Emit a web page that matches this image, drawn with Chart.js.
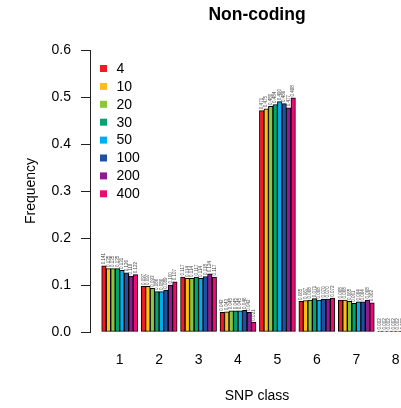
<!DOCTYPE html>
<html>
<head>
<meta charset="utf-8">
<script src="https://cdn.jsdelivr.net/npm/chart.js@4.4.1/dist/chart.umd.min.js"></script>
<style>
  html, body { margin: 0; padding: 0; background: #fff; overflow: hidden; }
  #wrap { width: 401px; height: 408px; }
</style>
</head>
<body>
<div id="wrap"><canvas id="chart" width="401" height="408"></canvas></div>
<script>
// SNP classes on the x axis
const snpClasses = ['1', '2', '3', '4', '5', '6', '7', '8'];
// legend entries (one series each)
const seriesNames = ['4', '10', '20', '30', '50', '100', '200', '400'];
const yTicks = [0, 0.1, 0.2, 0.3, 0.4, 0.5, 0.6];

// frequency per SNP class, one array per series
const freq4   = [0.141, 0.097, 0.117, 0.042, 0.471, 0.065, 0.068, 0.002];
const freq10  = [0.135, 0.097, 0.114, 0.043, 0.475, 0.067, 0.068, 0.002];
const freq20  = [0.135, 0.093, 0.114, 0.045, 0.480, 0.068, 0.065, 0.002];
const freq30  = [0.135, 0.086, 0.117, 0.045, 0.484, 0.071, 0.061, 0.002];
const freq50  = [0.131, 0.086, 0.114, 0.045, 0.490, 0.068, 0.064, 0.002];
const freq100 = [0.126, 0.089, 0.118, 0.046, 0.486, 0.070, 0.064, 0.002];
const freq200 = [0.119, 0.100, 0.124, 0.042, 0.477, 0.070, 0.068, 0.002];
const freq400 = [0.122, 0.107, 0.117, 0.021, 0.498, 0.072, 0.062, 0.002];

const allSeries = [freq4, freq10, freq20, freq30, freq50, freq100, freq200, freq400];
const colors = ['#ED1C24', '#FDC010', '#8CC63F', '#00A46F', '#00AEEF', '#2050A6', '#8E1C8E', '#EC0B73'];

Chart.defaults.font.family = '"Liberation Sans", Arial, Helvetica, sans-serif';
Chart.defaults.color = '#000';

// titles, legend and value labels in R style
const decorations = {
    id: 'decorations',
    afterDatasetsDraw(chart) {
        const ctx = chart.ctx;
        ctx.save();
        // tiny rotated labels over bars
        ctx.fillStyle = '#444';
        ctx.font = '4.5px "Liberation Sans", Arial, sans-serif';
        ctx.textAlign = 'left';
        ctx.textBaseline = 'middle';
        chart.data.datasets.forEach((ds, di) => {
            chart.getDatasetMeta(di).data.forEach((bar, i) => {
                ctx.save();
                ctx.translate(bar.x, bar.y - 1.5);
                ctx.rotate(-Math.PI / 2);
                ctx.fillText(ds.data[i].y.toFixed(3), 0, 0);
                ctx.restore();
            });
        });
        ctx.restore();
    },
    afterDraw(chart) {
        const ctx = chart.ctx;
        ctx.save();
        ctx.fillStyle = '#000';
        ctx.textAlign = 'center';
        ctx.textBaseline = 'alphabetic';
        ctx.font = 'bold 17.5px "Liberation Sans", Arial, sans-serif';
        ctx.fillText('Non-coding', 257, 20);
        ctx.font = '14px "Liberation Sans", Arial, sans-serif';
        ctx.fillText('SNP class', 257, 400);
        ctx.save();
        ctx.translate(35, 191);
        ctx.rotate(-Math.PI / 2);
        ctx.fillText('Frequency', 0, 0);
        ctx.restore();

        // legend
        ctx.textAlign = 'left';
        ctx.textBaseline = 'middle';
        seriesNames.forEach((name, i) => {
            const y = 68.5 + i * 17.9;
            ctx.fillStyle = colors[i];
            ctx.fillRect(100, y - 3.5, 7, 7);
            ctx.fillStyle = '#000';
            ctx.fillText(name, 116.5, y + 0.5);
        });
        ctx.restore();
    }
};

const ctx = document.getElementById('chart').getContext('2d');
const chart = new Chart(ctx, {
    type: 'bar',
    data: {
        datasets: allSeries.map((vals, k) => ({
            label: seriesNames[k],
            data: vals.map((v, i) => ({ x: i + 1, y: v })),
            backgroundColor: colors[k],
            borderColor: '#000',
            borderWidth: 1,
            borderSkipped: false,
            barThickness: 4.5,
            clip: false
        }))
    },
    options: {
        responsive: false,
        animation: false,
        layout: { padding: { top: 50, left: 0, right: 0, bottom: 0 } },
        scales: {
            x: {
                type: 'linear',
                offset: false,
                min: 0.247,
                max: 8.134,
                afterBuildTicks: (s) => { s.ticks = snpClasses.map((c, i) => ({ value: i + 1 })); },
                afterFit: (s) => { s.height = 76; s.paddingLeft = 0; s.paddingRight = 0; },
                grid: { display: false, drawTicks: false, offset: false },
                border: { display: false },
                ticks: {
                    autoSkip: false,
                    maxRotation: 0,
                    padding: 20,
                    font: { size: 14 },
                    color: '#000',
                    callback: (v, i) => snpClasses[i]
                }
            },
            y: {
                min: 0,
                max: 0.6,
                afterBuildTicks: (s) => { s.ticks = yTicks.map(v => ({ value: v })); },
                afterFit: (s) => { s.width = 90; s.paddingTop = 0; s.paddingBottom = 0; },
                grid: { drawOnChartArea: false, drawTicks: true, tickLength: 9, color: '#222' },
                border: { display: true, color: '#222' },
                ticks: {
                    padding: 10,
                    font: { size: 14 },
                    color: '#000',
                    callback: (v) => v.toFixed(1)
                }
            }
        },
        plugins: {
            legend: { display: false },
            tooltip: { enabled: false },
            title: { display: false }
        }
    },
    plugins: [decorations]
});
</script>
</body>
</html>
